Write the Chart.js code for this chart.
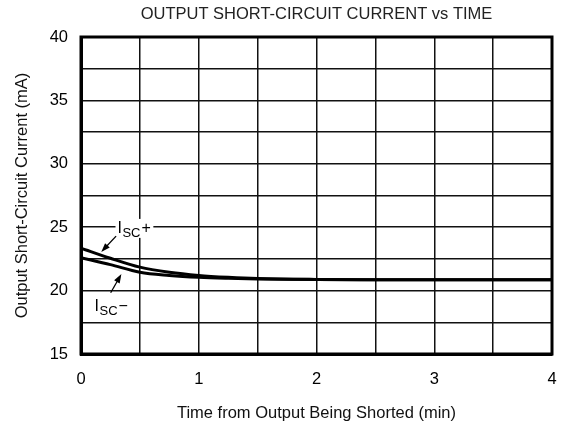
<!DOCTYPE html>
<html>
<head>
<meta charset="utf-8">
<script src="https://cdn.jsdelivr.net/npm/chart.js@4"></script>
<style>
  html, body { margin: 0; padding: 0; background: #fff; }
  #wrap { width: 565px; height: 424px; }
</style>
</head>
<body>
<div id="wrap"><canvas id="chart" width="565" height="424"></canvas></div>
<script>
// time (min) and short-circuit current (mA)
const times = [0, 0.25, 0.5, 0.75, 1, 1.25, 1.5, 2, 2.5, 3, 3.5, 4];
const iscPlus = [23.35, 22.55, 21.85, 21.45, 21.2, 21.05, 20.95, 20.88, 20.86, 20.85, 20.85, 20.85];
const iscMinus = [22.6, 22.05, 21.45, 21.2, 21.05, 20.97, 20.92, 20.87, 20.85, 20.85, 20.85, 20.85];
const xTickLabels = [0, 1, 2, 3, 4];
const yTickLabels = [15, 20, 25, 30, 35, 40];

const FONT = "'Liberation Sans', Arial, Helvetica, sans-serif";

function toPoints(ys) {
  return times.map((t, i) => ({ x: t, y: ys[i] }));
}

function arrow(ctx, x1, y1, x2, y2) {
  const a = Math.atan2(y2 - y1, x2 - x1);
  const len = 9, half = 3.2;
  ctx.beginPath();
  ctx.moveTo(x1, y1);
  ctx.lineTo(x2 - Math.cos(a) * len * 0.6, y2 - Math.sin(a) * len * 0.6);
  ctx.lineWidth = 1.3;
  ctx.stroke();
  ctx.beginPath();
  ctx.moveTo(x2, y2);
  ctx.lineTo(x2 - Math.cos(a) * len - Math.sin(a) * half, y2 - Math.sin(a) * len + Math.cos(a) * half);
  ctx.lineTo(x2 - Math.cos(a) * len + Math.sin(a) * half, y2 - Math.sin(a) * len - Math.cos(a) * half);
  ctx.closePath();
  ctx.fill();
}

function iscLabel(ctx, x, y, sign) {
  ctx.font = "16px " + FONT;
  const wI = ctx.measureText("I").width;
  ctx.font = "13px " + FONT;
  const wS = ctx.measureText("SC").width;
  ctx.font = "16px " + FONT;
  const wP = ctx.measureText(sign).width;
  ctx.fillStyle = "#fff";
  ctx.fillRect(x - 2, y - 14, wI + wS + wP + 6, 19);
  ctx.fillStyle = "#000";
  ctx.textBaseline = "alphabetic";
  ctx.textAlign = "left";
  ctx.fillText("I", x, y);
  ctx.font = "13px " + FONT;
  ctx.fillText("SC", x + wI + 0.5, y + 4);
  ctx.font = "16px " + FONT;
  ctx.fillText(sign, x + wI + wS + 1.5, y);
}

const extras = {
  id: "extras",
  afterDatasetsDraw(chart) {
    const ctx = chart.ctx;
    const xs = chart.scales.x, ys = chart.scales.y;
    const area = chart.chartArea;
    ctx.save();
    // title centred over the plot
    ctx.fillStyle = "#222";
    ctx.font = "16.5px " + FONT;
    ctx.textAlign = "center";
    ctx.textBaseline = "middle";
    ctx.fillText("OUTPUT SHORT-CIRCUIT CURRENT vs TIME", (area.left + area.right) / 2, 14);

    // curve labels and arrows
    iscLabel(ctx, xs.getPixelForValue(0.31), ys.getPixelForValue(24.55), "+");
    iscLabel(ctx, xs.getPixelForValue(0.115), ys.getPixelForValue(18.39), "\u2212");
    ctx.strokeStyle = "#000";
    ctx.fillStyle = "#000";
    arrow(ctx, xs.getPixelForValue(0.298), ys.getPixelForValue(24.3),
      xs.getPixelForValue(0.172), ys.getPixelForValue(23.05));
    arrow(ctx, xs.getPixelForValue(0.252), ys.getPixelForValue(19.83),
      xs.getPixelForValue(0.343), ys.getPixelForValue(21.3));

    // outer frame
    ctx.lineWidth = 3;
    ctx.strokeRect(area.left, area.top, area.right - area.left, area.bottom - area.top);
    ctx.restore();
  }
};

new Chart(document.getElementById("chart"), {
  type: "line",
  data: {
    datasets: [
      {
        label: "ISC+",
        data: toPoints(iscPlus),
        borderColor: "#000",
        borderWidth: 3,
        pointRadius: 0,
        cubicInterpolationMode: "monotone"
      },
      {
        label: "ISC-",
        data: toPoints(iscMinus),
        borderColor: "#000",
        borderWidth: 3,
        pointRadius: 0,
        cubicInterpolationMode: "monotone"
      }
    ]
  },
  options: {
    responsive: false,
    animation: false,
    layout: { padding: { left: 0, top: 37, right: 13, bottom: 0 } },
    plugins: {
      legend: { display: false },
      tooltip: { enabled: false }
    },
    scales: {
      x: {
        type: "linear",
        min: 0,
        max: 4,
        afterFit: s => { s.height = 70; s.paddingLeft = 0; s.paddingRight = 0; },
        grid: { color: "#111", lineWidth: 1.5, drawTicks: false },
        border: { color: "#000", width: 3 },
        ticks: {
          stepSize: 0.5,
          padding: 16,
          color: "#000",
          font: { family: FONT, size: 16.5 },
          callback: v => xTickLabels.includes(v) ? String(v) : ""
        },
        title: {
          display: true,
          text: "Time from Output Being Shorted (min)",
          color: "#111",
          font: { family: FONT, size: 16.5 },
          padding: { top: 0, bottom: 1 }
        }
      },
      y: {
        min: 15,
        max: 40,
        afterFit: s => { s.width = 81; },
        grid: { color: "#111", lineWidth: 1.5, drawTicks: false },
        border: { color: "#000", width: 3 },
        ticks: {
          stepSize: 2.5,
          padding: 13,
          color: "#000",
          font: { family: FONT, size: 16.5 },
          callback: v => yTickLabels.includes(v) ? String(v) : ""
        },
        title: {
          display: true,
          text: "Output Short-Circuit Current (mA)",
          color: "#111",
          font: { family: FONT, size: 16.5 },
          padding: { top: 13, bottom: 0 }
        }
      }
    }
  },
  plugins: [extras]
});
</script>
</body>
</html>
